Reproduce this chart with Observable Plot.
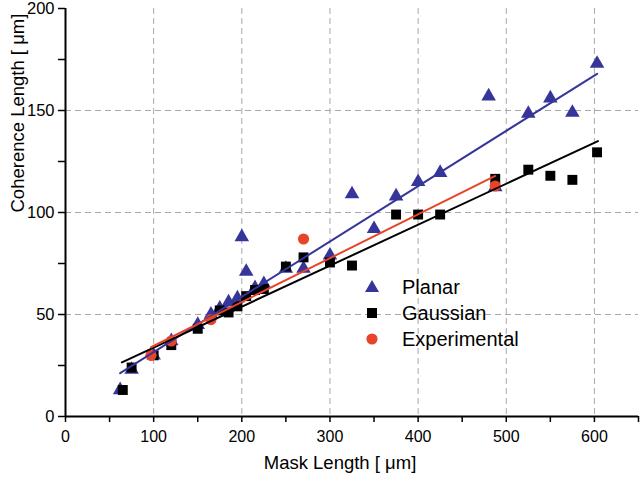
<!DOCTYPE html>
<html>
<head>
<meta charset="utf-8">
<script src="https://cdn.jsdelivr.net/npm/d3@7"></script>
<script src="https://cdn.jsdelivr.net/npm/@observablehq/plot@0.6"></script>
<style>
  html, body { margin: 0; padding: 0; background: white; }
  #wrap { position: relative; width: 640px; height: 482px; font-family: "Liberation Sans", Arial, sans-serif; }
  #legend { position: absolute; left: 362px; top: 274px; font-size: 20px; color: #000; }
  .row { display: flex; align-items: center; height: 26px; }
  .row svg { width: 20px; height: 20px; margin-right: 20px; }
</style>
</head>
<body>
<div id="wrap"></div>
<script>
// ---- data ----
const planarX = [62, 75, 100, 120, 150, 165, 175, 185, 195, 200, 205, 215, 225, 250, 270, 300, 325, 350, 375, 400, 425, 480, 487.5, 525, 550, 575, 603];
const planarY = [13, 23, 30, 37, 45, 50, 53, 56, 58, 88, 71, 63, 65, 72.5, 72.5, 79, 109, 92, 108, 115, 119.5, 157, 112.5, 148.5, 156, 149, 173];

const gaussX = [65, 75, 100, 120, 150, 175, 185, 195, 205, 215, 225, 250, 270, 300, 325, 375, 400, 425, 487.5, 525, 550, 575, 603];
const gaussY = [13, 24, 30, 35, 43, 52, 51, 54, 59, 62, 62.5, 73.5, 78, 75.5, 74, 99, 99, 99, 116.5, 121, 118, 116, 129.5];

const expX = [97, 120, 165, 270, 487.5];
const expY = [30, 37, 47.5, 87, 113];

// linear fits: [xStart, xEnd], intercept, slope
const seriesNames = ["Planar", "Gaussian", "Experimental"];
const fitRange = [[62, 603], [64, 604], [97, 487.5]];
const fitIntercept = [4.4, 13.7, 13.1];
const fitSlope = [0.2713, 0.2008, 0.215];

const xTicks = [0, 100, 200, 300, 400, 500, 600];
const xMinor = [50, 150, 250, 350, 450, 550, 650];
const yTicks = [0, 50, 100, 150, 200];
const yMinor = [25, 75, 125, 175];
const xGrid = [100, 200, 300, 400, 500, 600];
const yGrid = [50, 100, 150];

const colors = ["#36369a", "#000000", "#e8442a"];

const pts = (xs, ys) => xs.map((x, i) => ({x, y: ys[i]}));
const fits = seriesNames.map((s, k) => fitRange[k].map(x => ({series: s, x, y: fitIntercept[k] + fitSlope[k] * x})));

const chart = Plot.plot({
  width: 640, height: 482,
  marginLeft: 65, marginRight: 2, marginTop: 8, marginBottom: 66,
  x: {domain: [0, 650]},
  y: {domain: [0, 200]},
  style: {fontFamily: "Liberation Sans, Arial, sans-serif", fontSize: "16px", color: "#000", background: "white"},
  marks: [
    Plot.gridX(xGrid, {stroke: "#a8a8a8", strokeOpacity: 1, strokeDasharray: "6,4"}),
    Plot.gridY(yGrid, {stroke: "#a8a8a8", strokeOpacity: 1, strokeDasharray: "6,4"}),
    Plot.axisX(xTicks, {tickSize: 6, tickPadding: 8, fontSize: 16, label: null, strokeWidth: 1.5}),
    Plot.axisX(xMinor, {tickSize: 6, tickFormat: () => "", label: null, strokeWidth: 1.5}),
    Plot.axisY(yTicks, {tickSize: 7, tickPadding: 4, fontSize: 16.5, label: null, strokeWidth: 1.5}),
    Plot.axisY(yMinor, {tickSize: 7, tickFormat: () => "", label: null, strokeWidth: 1.5}),
    Plot.ruleX([0], {stroke: "#000", strokeWidth: 2}),
    Plot.ruleY([0], {stroke: "#000", strokeWidth: 2}),
    Plot.dot(pts(planarX, planarY), {x: "x", y: "y", symbol: "triangle", r: 5.4, fill: colors[0], stroke: "none"}),
    Plot.dot(pts(gaussX, gaussY), {x: "x", y: "y", symbol: "square", r: 5.6, fill: colors[1], stroke: "none"}),
    Plot.dot(pts(expX, expY), {x: "x", y: "y", symbol: "circle", r: 5.6, fill: colors[2], stroke: "none"}),
    ...fits.map((f, k) => Plot.line(f, {x: "x", y: "y", stroke: colors[k], strokeWidth: 2})),
    Plot.text(["Mask Length [ \u03bcm]"], {frameAnchor: "bottom", dx: -12, dy: 52, fontSize: 18.5, fill: "#000"}),
    Plot.text(["Coherence Length [ \u03bcm]"], {frameAnchor: "left", rotate: -90, dx: -47, dy: 0, fontSize: 18.5, fill: "#000"})
  ]
});

const wrap = document.getElementById("wrap");
wrap.appendChild(chart);

// legend
const legend = document.createElement("div");
legend.id = "legend";
const shapes = [
  `<polygon points="10,3 17,15 3,15" fill="${colors[0]}"/>`,
  `<rect x="5" y="5" width="10" height="10" fill="${colors[1]}"/>`,
  `<circle cx="10" cy="10" r="5.6" fill="${colors[2]}"/>`
];
seriesNames.forEach((s, k) => {
  const row = document.createElement("div");
  row.className = "row";
  row.innerHTML = `<svg viewBox="0 0 20 20">${shapes[k]}</svg><span>${s}</span>`;
  legend.appendChild(row);
});
wrap.appendChild(legend);
</script>
</body>
</html>
